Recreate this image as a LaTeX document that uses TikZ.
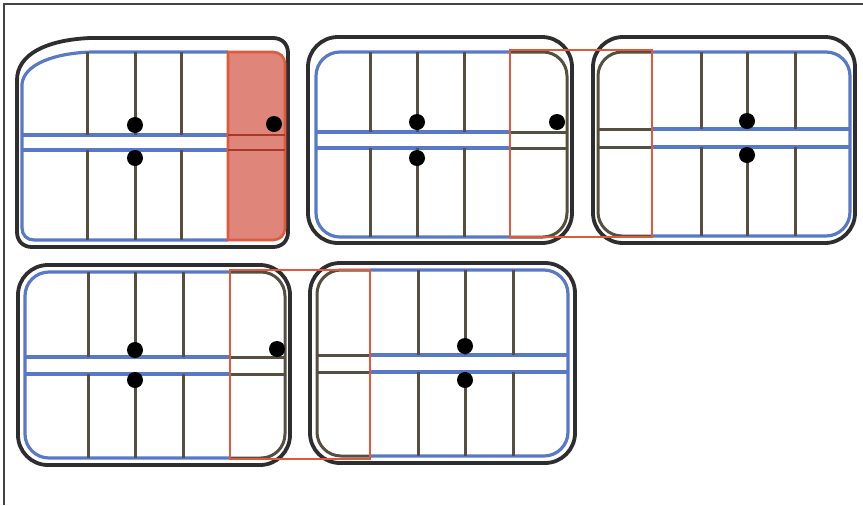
\documentclass[tikz,border=0pt]{standalone}
\usepackage{tikz}
\definecolor{outc}{HTML}{2E2E30}
\definecolor{bluec}{HTML}{5878C8}
\definecolor{divc}{HTML}{564F40}
\definecolor{redc}{HTML}{DE5A3C}
\definecolor{salmonc}{HTML}{E0857A}
\definecolor{darkredc}{HTML}{A8392A}
\definecolor{framec}{HTML}{444444}
\tikzset{
  outerline/.style={draw=outc, line width=1.9pt, line cap=round},
  blueline/.style={draw=bluec, line width=1.6pt},
  darkline/.style={draw=divc, line width=1.5pt},
  divline/.style={draw=divc, line width=1.5pt},
  redline/.style={draw=redc, line width=1.3pt},
  dotmark/.style={fill=black},
}
\begin{document}
\begin{tikzpicture}[x=0.5pt,y=-0.5pt]
\useasboundingbox (0,0) rectangle (863,505);
% frame
\draw[draw=framec, line width=1pt] (4,505) -- (4,4) -- (863,4);

% ===== Panel 1 (top-left) =====
\draw[outerline] (17,80) -- (17,232) .. controls (17,241) and (23,247) .. (32,247)
  -- (273,247) .. controls (282,247) and (288,241) .. (288,232)
  -- (288,53) .. controls (288,44) and (282,38) .. (273,38)
  -- (90,38) .. controls (45,40) and (17,55) .. (17,80) -- cycle;
\draw[blueline] (228,52) -- (92,52) .. controls (55,53) and (24,64) .. (22,84)
  -- (22,228) .. controls (22,235) and (27,240) .. (34,240) -- (228,240);
\draw[blueline] (22,135) -- (228,135);
\draw[blueline] (22,150) -- (228,150);
\foreach \x in {87,135,181} {
  \draw[divline] (\x,52) -- (\x,135);
  \draw[divline] (\x,150) -- (\x,240);
}
\draw[redline, fill=salmonc] (228,52) -- (273,52) .. controls (280,52) and (285,57) .. (285,64)
  -- (285,228) .. controls (285,235) and (280,240) .. (273,240) -- (228,240) -- cycle;
\draw[draw=darkredc, line width=1.2pt] (228,135) -- (285,135);
\draw[draw=darkredc, line width=1.2pt] (228,150) -- (285,150);
\fill[dotmark] (135,125) circle[radius=8];
\fill[dotmark] (135,158) circle[radius=8];
\fill[dotmark] (274,124) circle[radius=8];

% ===== Panel 2 (top-middle) =====
\draw[outerline, rounded corners=15] (308,37) rectangle (572,243);
\draw[blueline, rounded corners=12] (510,52) -- (316,52) -- (316,237) -- (510,237);
\draw[darkline, rounded corners=12] (510,52) -- (567,52) -- (567,237) -- (510,237);
\draw[blueline] (316,132) -- (510,132);
\draw[blueline] (316,148) -- (510,148);
\draw[darkline] (510,132) -- (567,132);
\draw[darkline] (510,148) -- (567,148);
\foreach \x in {370,417,464} {
  \draw[divline] (\x,52) -- (\x,132);
  \draw[divline] (\x,148) -- (\x,237);
}
\fill[dotmark] (417,122) circle[radius=8];
\fill[dotmark] (417,158) circle[radius=8];
\fill[dotmark] (557,122) circle[radius=8];

% ===== Panel 3 (top-right) =====
\draw[outerline, rounded corners=15] (593,37) rectangle (855,243);
\draw[darkline, rounded corners=12] (652,52) -- (598,52) -- (598,236) -- (652,236);
\draw[blueline, rounded corners=12] (652,52) -- (850,52) -- (850,236) -- (652,236);
\draw[darkline] (598,129) -- (652,129);
\draw[darkline] (598,147) -- (652,147);
\draw[blueline] (652,129) -- (850,129);
\draw[blueline] (652,147) -- (850,147);
\foreach \x in {701,747,795} {
  \draw[divline] (\x,52) -- (\x,129);
  \draw[divline] (\x,147) -- (\x,236);
}
\fill[dotmark] (747,121) circle[radius=8];
\fill[dotmark] (747,155) circle[radius=8];

% red zone top
\draw[redline] (510,50) rectangle (652,237);

% ===== Panel 4 (bottom-left) =====
\draw[outerline, rounded corners=15] (18,265) rectangle (290,465);
\draw[blueline, rounded corners=12] (230,272) -- (25,272) -- (25,458) -- (230,458);
\draw[darkline, rounded corners=12] (230,272) -- (285,272) -- (285,458) -- (230,458);
\draw[blueline] (25,357) -- (230,357);
\draw[blueline] (25,374) -- (230,374);
\draw[darkline] (230,357) -- (285,357);
\draw[darkline] (230,374) -- (285,374);
\foreach \x in {88,135,183} {
  \draw[divline] (\x,272) -- (\x,357);
  \draw[divline] (\x,374) -- (\x,458);
}
\fill[dotmark] (135,350) circle[radius=8];
\fill[dotmark] (135,380) circle[radius=8];
\fill[dotmark] (277,349) circle[radius=8];

% ===== Panel 5 (bottom-middle) =====
\draw[outerline, rounded corners=15] (310,263) rectangle (575,463);
\draw[darkline, rounded corners=12] (370,270) -- (317,270) -- (317,456) -- (370,456);
\draw[blueline, rounded corners=12] (370,270) -- (568,270) -- (568,456) -- (370,456);
\draw[darkline] (317,355) -- (370,355);
\draw[darkline] (317,372) -- (370,372);
\draw[blueline] (370,355) -- (568,355);
\draw[blueline] (370,372) -- (568,372);
\foreach \x in {418,465,513} {
  \draw[divline] (\x,270) -- (\x,355);
  \draw[divline] (\x,372) -- (\x,456);
}
\fill[dotmark] (465,346) circle[radius=8];
\fill[dotmark] (465,380) circle[radius=8];

% red zone bottom
\draw[redline] (230,270) rectangle (370,459);
\end{tikzpicture}
\end{document}
